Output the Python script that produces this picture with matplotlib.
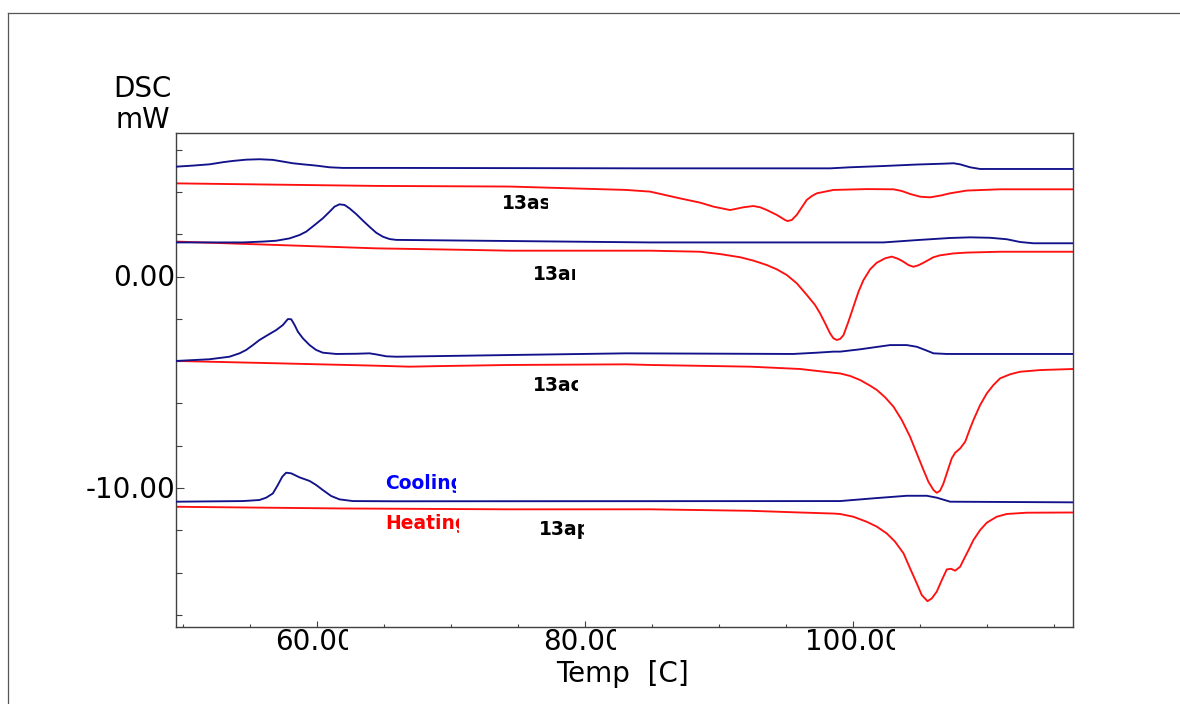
import numpy as np
import matplotlib
matplotlib.use("Agg")
import matplotlib.pyplot as plt
from matplotlib.transforms import Bbox
from matplotlib.lines import Line2D

# ---------------- data (Temp [C], DSC [mW]) ----------------
cool_13as_T = [49.52, 50.76, 52.0, 53.0, 53.74, 54.74, 55.73, 56.73, 57.48, 58.22, 58.97,
               59.96, 60.96, 61.95, 65.93, 84.89, 98.32, 99.81, 102.30, 104.79, 106.78,
               107.53, 108.02, 108.77, 109.52, 116.46]
cool_13as_Y = [5.19, 5.24, 5.30, 5.40, 5.46, 5.52, 5.54, 5.51, 5.43, 5.35, 5.30,
               5.24, 5.16, 5.13, 5.13, 5.11, 5.11, 5.16, 5.22, 5.29, 5.33,
               5.35, 5.30, 5.16, 5.08, 5.08]

heat_13as_T = [49.52, 64.44, 74.39, 83.1, 84.89, 87.13, 88.62, 89.62, 90.86, 91.85, 92.60,
               93.10, 93.60, 94.34, 94.96, 95.14, 95.46, 95.83, 96.21, 96.58, 96.95, 97.33,
               98.57, 101.06, 103.05, 103.67, 104.29, 105.04, 105.78, 106.53, 107.27,
               108.52, 111.01, 116.46]
heat_13as_Y = [4.40, 4.28, 4.25, 4.09, 4.01, 3.69, 3.49, 3.30, 3.14, 3.27, 3.33,
               3.27, 3.14, 2.91, 2.67, 2.62, 2.67, 2.91, 3.27, 3.62, 3.80, 3.93,
               4.09, 4.13, 4.12, 4.04, 3.90, 3.77, 3.74, 3.82, 3.93,
               4.06, 4.12, 4.12]

cool_13ar_T = [49.52, 54.49, 55.98, 56.98, 57.97, 58.72, 59.22, 59.84, 60.46, 60.96, 61.33,
               61.70, 62.08, 62.45, 62.95, 63.45, 63.94, 64.44, 64.94, 65.44, 65.93,
               84.89, 102.30, 104.79, 107.28, 108.77, 110.26, 111.51, 112.50, 113.50, 116.46]
cool_13ar_Y = [1.61, 1.61, 1.65, 1.69, 1.80, 1.96, 2.12, 2.43, 2.75, 3.06, 3.30,
               3.41, 3.38, 3.22, 2.95, 2.64, 2.35, 2.07, 1.88, 1.77, 1.73,
               1.61, 1.61, 1.72, 1.82, 1.85, 1.83, 1.76, 1.63, 1.57, 1.57]

heat_13ar_T = [49.52, 56.98, 64.44, 71.90, 74.39, 84.89, 88.62, 90.11, 91.61, 92.60, 93.60,
               94.34, 95.09, 95.83, 96.58, 97.20, 97.57, 97.95, 98.32, 98.57, 98.82, 99.07,
               99.32, 99.69, 100.06, 100.44, 100.81, 101.31, 101.80, 102.43, 102.92, 103.42,
               103.79, 104.17, 104.54, 104.91, 105.29, 106.03, 106.53, 107.53, 108.52,
               111.01, 116.46]
heat_13ar_Y = [1.65, 1.49, 1.33, 1.25, 1.22, 1.22, 1.17, 1.06, 0.91, 0.75, 0.54,
               0.34, 0.07, -0.32, -0.87, -1.35, -1.74, -2.21, -2.69, -2.92, -3.00, -2.95,
               -2.77, -2.13, -1.43, -0.72, -0.17, 0.34, 0.65, 0.86, 0.94, 0.83,
               0.70, 0.54, 0.46, 0.53, 0.65, 0.91, 1.00, 1.09, 1.13,
               1.17, 1.17]

cool_13ac_T = [49.52, 52.0, 53.49, 54.24, 54.74, 55.24, 55.73, 56.36, 56.98, 57.48, 57.85,
               58.10, 58.35, 58.60, 58.97, 59.47, 59.96, 60.46, 61.46, 62.95, 63.94,
               64.44, 65.19, 65.93, 74.39, 83.1, 95.56, 97.33, 98.57, 99.07, 100.56,
               101.56, 102.80, 104.04, 104.79, 105.41, 106.04, 107.03, 116.46]
cool_13ac_Y = [-3.99, -3.91, -3.79, -3.63, -3.47, -3.24, -3.00, -2.76, -2.53, -2.29, -2.01,
               -2.02, -2.29, -2.61, -2.92, -3.24, -3.47, -3.60, -3.66, -3.65, -3.63,
               -3.68, -3.77, -3.79, -3.71, -3.63, -3.66, -3.60, -3.55, -3.55, -3.44,
               -3.35, -3.24, -3.24, -3.32, -3.47, -3.63, -3.66, -3.66]

heat_13ac_T = [49.52, 56.98, 64.19, 66.93, 69.42, 74.39, 83.1, 84.89, 92.35, 96.08, 98.57,
               99.07, 99.82, 100.56, 101.31, 101.81, 102.43, 103.05, 103.67, 104.29, 104.79,
               105.29, 105.66, 106.04, 106.28, 106.53, 106.78, 107.03, 107.40, 107.65,
               108.03, 108.40, 108.77, 109.02, 109.52, 110.02, 110.51, 111.01, 111.76,
               112.50, 114.0, 116.46]
heat_13ac_Y = [-3.99, -4.10, -4.21, -4.26, -4.23, -4.18, -4.15, -4.18, -4.26, -4.37, -4.55,
               -4.58, -4.70, -4.89, -5.16, -5.36, -5.71, -6.15, -6.78, -7.57, -8.36,
               -9.14, -9.70, -10.09, -10.22, -10.12, -9.78, -9.30, -8.59, -8.33,
               -8.12, -7.81, -7.18, -6.78, -6.07, -5.52, -5.13, -4.81, -4.62,
               -4.50, -4.42, -4.37]

cool_13ap_T = [49.52, 54.49, 55.73, 56.23, 56.73, 57.10, 57.43, 57.72, 58.10, 58.72, 59.47,
               59.96, 60.46, 61.08, 61.70, 62.70, 65.93, 99.07, 101.56, 104.04, 105.54,
               106.28, 107.28, 116.46]
cool_13ap_Y = [-10.64, -10.61, -10.56, -10.45, -10.25, -9.85, -9.46, -9.27, -9.30, -9.49, -9.66,
               -9.85, -10.09, -10.37, -10.53, -10.61, -10.62, -10.61, -10.48, -10.36, -10.36,
               -10.45, -10.64, -10.67]

heat_13ap_T = [49.52, 61.95, 74.39, 84.89, 92.35, 96.08, 98.57, 99.07, 100.06, 101.06, 101.81,
               102.55, 103.17, 103.80, 104.29, 104.79, 105.16, 105.59, 105.91, 106.28, 106.66,
               107.03, 107.35, 107.65, 108.03, 108.27, 108.65, 109.02, 109.52, 110.02,
               110.76, 111.51, 113.0, 116.46]
heat_13ap_Y = [-10.88, -10.96, -11.00, -11.00, -11.07, -11.15, -11.20, -11.22, -11.35, -11.59, -11.82,
               -12.14, -12.53, -13.08, -13.79, -14.50, -15.05, -15.34, -15.21, -14.89, -14.34,
               -13.84, -13.81, -13.90, -13.71, -13.40, -12.93, -12.45, -11.98, -11.63,
               -11.35, -11.22, -11.16, -11.15]

sample_names = ["13as", "13ar", "13ac", "13ap"]
x_tick_labels = ["60.00", "80.00", "100.00"]
y_tick_labels = ["0.00", "-10.00"]
x_major = [60, 80, 100]
y_major = [0, -10]

# ---------------- figure ----------------
W, H = 1180, 704
fig = plt.figure(figsize=(W / 100, H / 100), dpi=100)
fig.patch.set_facecolor("white")

def fx(px):
    return px / W

def fy(py):
    return 1 - py / H

ax = fig.add_axes([fx(176), fy(627), (1073 - 176) / W, (627 - 133) / H])
ax.set_xlim(49.5, 116.45)
ax.set_ylim(-16.56, 6.78)

BLUE = "#12128a"
RED = "#ff1010"
lw = 1.35

pairs = [
    (heat_13as_T, heat_13as_Y, cool_13as_T, cool_13as_Y),
    (heat_13ar_T, heat_13ar_Y, cool_13ar_T, cool_13ar_Y),
    (heat_13ac_T, heat_13ac_Y, cool_13ac_T, cool_13ac_Y),
    (heat_13ap_T, heat_13ap_Y, cool_13ap_T, cool_13ap_Y),
]
for hT, hY, cT, cY in pairs:
    ax.plot(hT, hY, color=RED, lw=lw, solid_joinstyle="round", zorder=2)
    ax.plot(cT, cY, color=BLUE, lw=lw, solid_joinstyle="round", zorder=3)

# ticks
ax.set_xticks(x_major)
ax.set_xticks(np.arange(50, 117, 5), minor=True)
ax.set_yticks(y_major)
ax.set_yticks(np.arange(-16, 7, 2), minor=True)
ax.tick_params(which="both", direction="in", labelbottom=False, labelleft=False,
               color="#404040", width=0.8)
ax.xaxis.set_tick_params(which="major", length=4.2)
ax.xaxis.set_tick_params(which="minor", length=2.0)
ax.yaxis.set_tick_params(which="major", length=5.5)
ax.yaxis.set_tick_params(which="minor", length=4.3)
for sp in ax.spines.values():
    sp.set_color("#404040")
    sp.set_linewidth(1.0)

# outer frame (top & left visible)
fig.add_artist(Line2D([fx(8), 1], [fy(13), fy(13)], color="#555555", lw=0.9))
fig.add_artist(Line2D([fx(8), fx(8)], [fy(13), 0], color="#555555", lw=0.9))

FONT = "DejaVu Sans"
renderer = fig.canvas.get_renderer()

def ctext(x0, base, s, last_frac=None, **kw):
    """Left-aligned text; if last_frac is given, the last glyph is cut off
    (as in the original export) keeping only that fraction of it."""
    t = fig.text(fx(x0), fy(base), s, ha="left", va="baseline", family=FONT, **kw)
    if last_frac is not None:
        full = t.get_window_extent(renderer)
        t.set_text(s[:-1])
        part = t.get_window_extent(renderer)
        t.set_text(s)
        xr = part.x1 + last_frac * (full.x1 - part.x1)
        t.set_clip_box(Bbox.from_extents(0, 0, xr, H))
        t.set_clip_on(True)
    return t

# axis titles
ctext(113, 97, "DSC", fontsize=20)
ctext(116, 127.7, "mW", fontsize=20)
ctext(556, 682, "Temp  [C]", fontsize=20)

# y tick labels (right aligned at axis)
for lab, base in zip(y_tick_labels, [286, 497.5]):
    fig.text(fx(175), fy(base), lab, ha="right", va="baseline", family=FONT, fontsize=20)

# x tick labels (last glyph cut like the original)
for lab, x0 in zip(x_tick_labels, [275, 543, 805]):
    ctext(x0, 650, lab, last_frac=0.6, fontsize=20)

# sample labels
for name, x0, base, fr in zip(sample_names, [502, 533, 533, 538.5],
                              [209.3, 280, 390.7, 535], [0.7, 0.35, 0.6, 0.5]):
    ctext(x0, base, name, last_frac=fr, fontsize=13.5, fontweight="bold", color="black")

ctext(385.5, 489.3, "Cooling", last_frac=0.35, fontsize=13.5, fontweight="bold", color="#0000ff")
ctext(385.5, 529.3, "Heating", last_frac=0.3, fontsize=13.5, fontweight="bold", color="#ff0000")

fig.savefig("out.png", dpi=100)
